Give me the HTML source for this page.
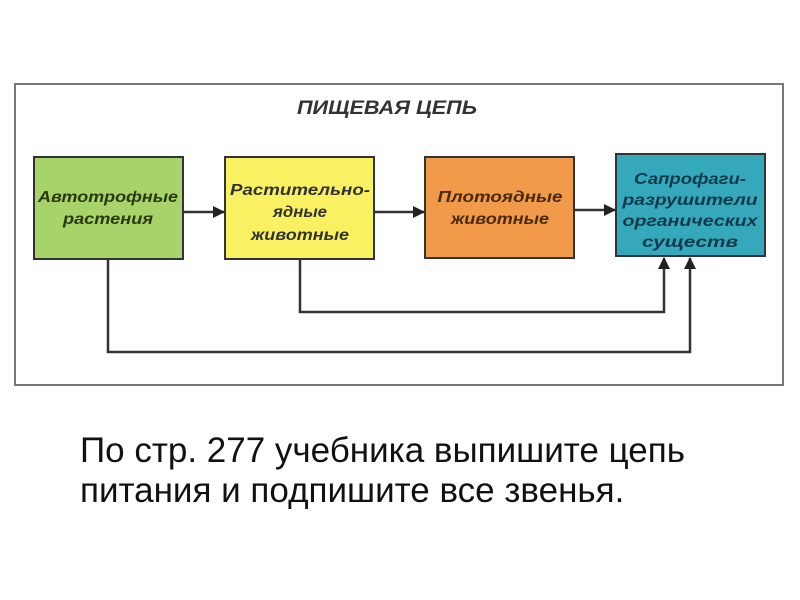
<!DOCTYPE html>
<html><head><meta charset="utf-8"><style>
body{margin:0;width:800px;height:600px;background:#fff;overflow:hidden;position:relative;font-family:"Liberation Sans","Noto Sans CJK SC",sans-serif}
.t{position:absolute;left:80px;font-size:35px;color:#111;line-height:40px;white-space:nowrap}
</style></head><body>
<svg width="800" height="400" style="position:absolute;left:0;top:0">
<defs><marker id="b" markerWidth="12" markerHeight="12" refX="11" refY="6" orient="auto" markerUnits="userSpaceOnUse"><path d="M0,0 L12,6 L0,12 z" fill="#222"/></marker></defs>
<rect x="15" y="84" width="768" height="301" fill="#fff" stroke="#777" stroke-width="2"/>
<text x="387" y="114" text-anchor="middle" font-size="19" font-weight="bold" font-style="italic" fill="#333" textLength="180" lengthAdjust="spacingAndGlyphs">ПИЩЕВАЯ ЦЕПЬ</text>
<g stroke="#333" stroke-width="2">
<rect x="34" y="157" width="149" height="102" fill="#a8d26a"/>
<rect x="225" y="157" width="149" height="102" fill="#f9f162"/>
<rect x="425" y="157" width="149" height="101" fill="#f09a4a"/>
<rect x="616" y="154" width="149" height="102" fill="#35a8bc"/>
</g>
<g stroke="#333" stroke-width="2.5" fill="none">
<line x1="184" y1="212" x2="224" y2="212" marker-end="url(#b)"/>
<line x1="375" y1="212" x2="424" y2="212" marker-end="url(#b)"/>
<line x1="575" y1="210" x2="615" y2="210" marker-end="url(#b)"/>
<polyline points="108,260 108,352 690,352 690,258" marker-end="url(#b)"/>
<polyline points="300,260 300,312 664,312 664,258" marker-end="url(#b)"/>
</g>
<g font-size="16" font-weight="bold" font-style="italic" text-anchor="middle">
<text x="108" y="202" fill="#2a3a10" textLength="140" lengthAdjust="spacingAndGlyphs">Автотрофные</text>
<text x="108" y="224" fill="#2a3a10" textLength="90" lengthAdjust="spacingAndGlyphs">растения</text>
<text x="300" y="195" fill="#333" textLength="140" lengthAdjust="spacingAndGlyphs">Растительно-</text>
<text x="300" y="217" fill="#333" textLength="54" lengthAdjust="spacingAndGlyphs">ядные</text>
<text x="300" y="240" fill="#333" textLength="98" lengthAdjust="spacingAndGlyphs">животные</text>
<text x="500" y="202" fill="#4a2a10" textLength="125" lengthAdjust="spacingAndGlyphs">Плотоядные</text>
<text x="500" y="224" fill="#4a2a10" textLength="98" lengthAdjust="spacingAndGlyphs">животные</text>
<text x="690" y="184" fill="#0f3a4a" textLength="112" lengthAdjust="spacingAndGlyphs">Сапрофаги-</text>
<text x="690" y="205" fill="#0f3a4a" textLength="135" lengthAdjust="spacingAndGlyphs">разрушители</text>
<text x="690" y="226" fill="#0f3a4a" textLength="135" lengthAdjust="spacingAndGlyphs">органических</text>
<text x="690" y="247" fill="#0f3a4a" textLength="96" lengthAdjust="spacingAndGlyphs">существ</text>
</g>
</svg>
<div class="t" style="top:431px">По стр. 277 учебника выпишите цепь</div>
<div class="t" style="top:471px">питания и подпишите все звенья.</div>
</body></html>
